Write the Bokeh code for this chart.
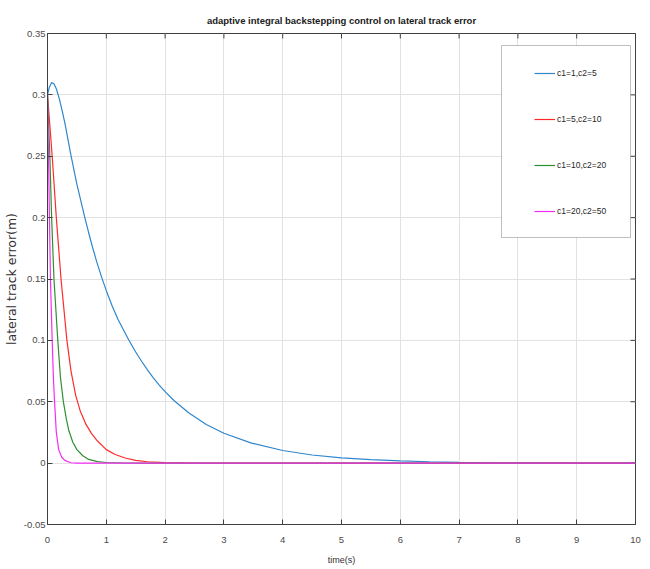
import math
from bokeh.plotting import figure
from bokeh.models import (Legend, LegendItem, BoxAnnotation,
                          CustomJSTickFormatter, FixedTicker, Range1d)
from bokeh.embed import file_html
from bokeh.resources import INLINE

title_text = "adaptive integral backstepping control on lateral track error"
x_label = "time(s)"
y_label = "lateral track error(m)"
x_ticks = [0, 1, 2, 3, 4, 5, 6, 7, 8, 9, 10]
y_ticks = [-0.05, 0, 0.05, 0.1, 0.15, 0.2, 0.25, 0.3, 0.35]

labels = ["c1=1,c2=5", "c1=5,c2=10", "c1=10,c2=20", "c1=20,c2=50"]
colors = ["#2f86cc", "#ff2a2a", "#2e8f2e", "#f52cf5"]

t_blue = [0.00, 0.03, 0.07, 0.11, 0.15, 0.20, 0.25, 0.30, 0.39, 0.50, 0.57, 0.64,
          0.70, 0.76, 0.84, 0.92, 1.00, 1.10, 1.20, 1.30, 1.38, 1.50, 1.60, 1.70,
          1.80, 1.90, 2.00, 2.15, 2.40, 2.70, 3.00, 3.47, 4.00, 4.50, 5.00, 5.50,
          6.00, 6.50, 7.00, 7.50, 8.00, 9.00, 10.0]
y_blue = [0.300, 0.306, 0.310, 0.309, 0.305, 0.297, 0.287, 0.276, 0.253, 0.227, 0.213, 0.199,
          0.1877, 0.1769, 0.1635, 0.1515, 0.1405, 0.128, 0.117, 0.1078, 0.1005, 0.0905, 0.0830, 0.0760,
          0.0695, 0.0636, 0.0582, 0.051, 0.041, 0.0315, 0.0243, 0.0163, 0.0103, 0.0066, 0.0042, 0.0028,
          0.0018, 0.0011, 0.0006, 0.0003, 0.0002, 0.0, 0.0]

t_red = [0.00, 0.04, 0.08, 0.15, 0.23, 0.33, 0.40, 0.48, 0.56, 0.65, 0.75, 0.85,
         1.00, 1.15, 1.32, 1.50, 1.70, 2.00, 2.50, 3.00, 10.0]
y_red = [0.300, 0.275, 0.250, 0.200, 0.150, 0.100, 0.075, 0.055, 0.042, 0.032, 0.024, 0.018,
         0.011, 0.007, 0.0042, 0.0022, 0.0011, 0.0004, 0.0001, 0.0, 0.0]

t_green = [0.00, 0.04, 0.07, 0.11, 0.175, 0.22, 0.27, 0.32, 0.36, 0.43, 0.50, 0.60,
           0.70, 0.85, 1.00, 1.30, 1.60, 10.0]
y_green = [0.300, 0.250, 0.200, 0.150, 0.100, 0.070, 0.050, 0.036, 0.027, 0.017, 0.011, 0.006,
           0.003, 0.0012, 0.0005, 0.0001, 0.0, 0.0]

t_mag = [0.000, 0.017, 0.033, 0.050, 0.080, 0.100, 0.120, 0.150, 0.190, 0.240, 0.300,
         0.400, 0.500, 10.0]
y_mag = [0.300, 0.250, 0.200, 0.150, 0.100, 0.070, 0.050, 0.025, 0.011, 0.005, 0.002,
         0.0003, 0.0, 0.0]

series_t = [t_blue, t_red, t_green, t_mag]
series_y = [y_blue, y_red, y_green, y_mag]

AX = "#404040"
SANS = "Liberation Sans"

p = figure(width=650, height=569, output_backend="svg", toolbar_location=None,
           x_range=Range1d(x_ticks[0], x_ticks[-1]), y_range=Range1d(y_ticks[0], y_ticks[-1]),
           min_border_left=45, min_border_right=15, min_border_top=33, min_border_bottom=45)
p.background_fill_color = "white"
p.border_fill_color = "white"
p.outline_line_color = AX
p.outline_line_width = 1

p.title.text = title_text
p.title.align = "center"
p.title.vertical_align = "middle"
p.title.text_font = SANS
p.title.text_font_size = "9.5px"
p.title.text_font_style = "bold"
p.title.text_color = "#202020"
p.title.standoff = 13

xt = FixedTicker(ticks=x_ticks)
yt = FixedTicker(ticks=y_ticks)
fmt = CustomJSTickFormatter(code="return String(Math.round(tick*100)/100);")

for ax in [p.xaxis[0], p.yaxis[0]]:
    ax.major_tick_in = 5
    ax.major_tick_out = 0
    ax.minor_tick_in = 0
    ax.minor_tick_out = 0
    ax.axis_line_color = AX
    ax.major_tick_line_color = AX
    ax.major_label_text_font = SANS
    ax.major_label_text_font_size = "9.5px"
    ax.major_label_text_color = "#4a4a4a"
    ax.axis_label_text_font_style = "normal"
    ax.axis_label_text_color = "#303030"
    ax.formatter = fmt

p.xaxis.ticker = xt
p.yaxis.ticker = yt
p.xaxis.major_label_standoff = 12
p.yaxis.major_label_standoff = 2
p.xaxis.axis_label = x_label
p.xaxis.axis_label_text_font = SANS
p.xaxis.axis_label_text_font_size = "9px"
p.xaxis.axis_label_standoff = 9
p.yaxis.axis_label = y_label
p.yaxis.axis_label_text_font = "DejaVu Sans"
p.yaxis.axis_label_text_font_size = "12.5px"
p.yaxis.axis_label_standoff = 2

p.xgrid.ticker = xt
p.ygrid.ticker = yt
p.grid.grid_line_color = "#e2e2e2"
p.grid.grid_line_width = 1

# inward ticks on top and right edges (clipped to the frame, so half of each dash shows)
p.scatter(x_ticks, [y_ticks[-1]] * len(x_ticks), marker="dash", size=10,
          angle=math.pi / 2, line_color=AX, line_width=1)
p.scatter([x_ticks[-1]] * len(y_ticks), y_ticks, marker="dash", size=10,
          line_color=AX, line_width=1)

renderers = []
for t, y, c in zip(series_t, series_y, colors):
    r = p.line(t, y, line_color=c, line_width=1.2)
    renderers.append(r)

box = BoxAnnotation(left=454, right=583, bottom=287, top=479,
                    left_units="screen", right_units="screen",
                    top_units="screen", bottom_units="screen",
                    fill_color="white", fill_alpha=1.0,
                    line_color="#303030", line_width=1, level="annotation")
p.add_layout(box)

legend = Legend(items=[LegendItem(label=l, renderers=[r]) for l, r in zip(labels, renderers)],
                location=(487, 303), padding=0, margin=0, spacing=26,
                glyph_width=21, glyph_height=20, label_height=20, label_standoff=2,
                label_text_font=SANS, label_text_font_size="8.5px",
                label_text_color="#262626",
                border_line_alpha=0, background_fill_alpha=0)
p.add_layout(legend)

open("out.html", "w").write(file_html(p, INLINE))
